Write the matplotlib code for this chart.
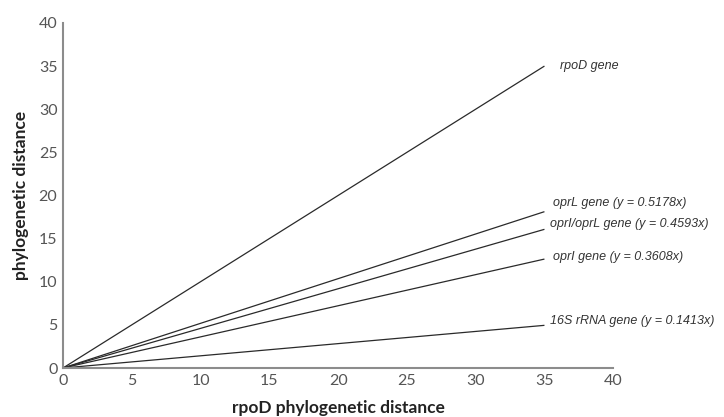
import numpy as np
import matplotlib.pyplot as plt

genes = ['rpoD gene', 'oprL gene (y = 0.5178x)', 'oprI/oprL gene (y = 0.4593x)',
         'oprI gene (y = 0.3608x)', '16S rRNA gene (y = 0.1413x)']
slopes = [1.0, 0.5178, 0.4593, 0.3608, 0.1413]
x_end = 35
label_y = [35.0, 19.1, 16.7, 12.9, 5.5]
label_x = [36.1, 35.6, 35.4, 35.6, 35.4]

fig = plt.figure(figsize=(7.24, 4.17), dpi=100)
ax = fig.add_axes([0.087, 0.1175, 0.760, 0.8275])

xs = np.array([0, x_end])
for s in slopes:
    ax.plot(xs, s * xs, color='#2a2a2a', lw=0.9, solid_capstyle='butt')

for name, lx, ly in zip(genes, label_x, label_y):
    ax.text(lx, ly, name, fontsize=9, style='italic', family='Liberation Sans',
            color='#333333', va='center', ha='left')

ax.set_xlim(0, 40)
ax.set_ylim(0, 40)
ax.set_xticks(range(0, 41, 5))
ax.set_yticks(range(0, 41, 5))
for sp in ['top', 'right']:
    ax.spines[sp].set_visible(False)
for sp in ['left', 'bottom']:
    ax.spines[sp].set_color('#8c8c8c')
    ax.spines[sp].set_linewidth(1.5)
ax.tick_params(length=0, labelsize=11.5, labelcolor='#555555', pad=4)
for lab in ax.get_xticklabels() + ax.get_yticklabels():
    lab.set_family('Lato')

ax.set_xlabel('rpoD phylogenetic distance', fontsize=12.5, fontweight='bold',
              family='Lato', color='#222222', labelpad=9)
ax.set_ylabel('phylogenetic distance', fontsize=12.5, fontweight='bold',
              family='Lato', color='#222222', labelpad=7)

fig.savefig('out.png', dpi=100)
